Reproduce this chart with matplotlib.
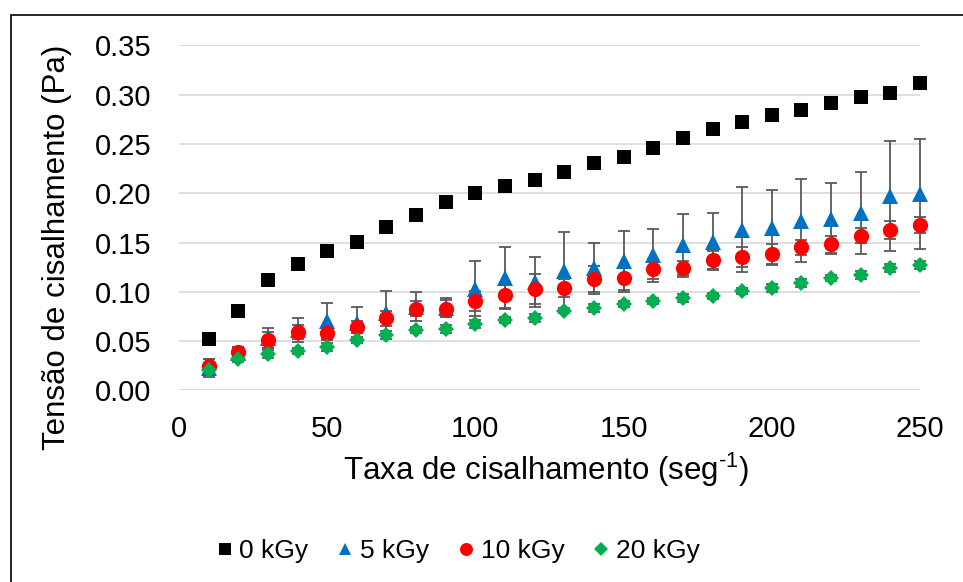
import matplotlib
matplotlib.use("Agg")
import matplotlib.pyplot as plt
import numpy as np
from matplotlib.patches import Rectangle
from matplotlib.ticker import FormatStrFormatter

plt.rcParams['font.family'] = ['Liberation Sans', 'DejaVu Sans']
plt.rcParams['mathtext.fontset'] = 'custom'
plt.rcParams['mathtext.rm'] = 'Liberation Sans'
plt.rcParams['mathtext.default'] = 'regular'

# shear rate (1/s)
taxa = [10, 20, 30, 40, 50, 60, 70, 80, 90, 100, 110, 120, 130, 140, 150,
        160, 170, 180, 190, 200, 210, 220, 230, 240, 250]

# shear stress (Pa), mean and std per dose
kgy0 = [0.052, 0.081, 0.112, 0.128, 0.141, 0.151, 0.166, 0.178, 0.191, 0.200,
        0.207, 0.213, 0.222, 0.231, 0.237, 0.246, 0.256, 0.265, 0.272, 0.279,
        0.284, 0.291, 0.298, 0.302, 0.312]
kgy0_sd = [0.002, 0.002, 0.002, 0.002, 0.002, 0.002, 0.002, 0.002, 0.002, 0.002,
           0.002, 0.002, 0.002, 0.002, 0.002, 0.002, 0.002, 0.002, 0.003, 0.002,
           0.005, 0.005, 0.003, 0.002, 0.002]

kgy5 = [0.023, 0.038, 0.053, 0.061, 0.070, 0.068, 0.078, 0.085, 0.084, 0.103,
        0.114, 0.110, 0.121, 0.124, 0.131, 0.137, 0.147, 0.151, 0.163, 0.165,
        0.172, 0.174, 0.180, 0.197, 0.199]
kgy5_sd = [0.009, 0.006, 0.010, 0.012, 0.019, 0.017, 0.023, 0.015, 0.010, 0.028,
           0.031, 0.025, 0.040, 0.026, 0.031, 0.027, 0.032, 0.029, 0.043, 0.038,
           0.042, 0.036, 0.042, 0.056, 0.056]

kgy10 = [0.025, 0.039, 0.051, 0.059, 0.058, 0.064, 0.073, 0.083, 0.083, 0.091,
         0.097, 0.103, 0.104, 0.113, 0.114, 0.123, 0.124, 0.132, 0.135, 0.138,
         0.145, 0.148, 0.157, 0.163, 0.168]
kgy10_sd = [0.007, 0.005, 0.008, 0.007, 0.006, 0.006, 0.008, 0.008, 0.009, 0.010,
            0.013, 0.015, 0.009, 0.013, 0.012, 0.010, 0.007, 0.009, 0.010, 0.010,
            0.008, 0.009, 0.008, 0.009, 0.008]

kgy20 = [0.021, 0.032, 0.037, 0.040, 0.044, 0.051, 0.056, 0.061, 0.062, 0.067,
         0.071, 0.073, 0.081, 0.084, 0.088, 0.091, 0.094, 0.096, 0.101, 0.104,
         0.109, 0.114, 0.117, 0.124, 0.127]
kgy20_sd = [0.004, 0.003, 0.004, 0.003, 0.004, 0.003, 0.004, 0.003, 0.004, 0.004,
            0.003, 0.004, 0.003, 0.004, 0.003, 0.003, 0.004, 0.003, 0.003, 0.004,
            0.004, 0.003, 0.004, 0.004, 0.004]

series = [
    ('0 kGy', kgy0, kgy0_sd, 's', '#000000', 10),
    ('5 kGy', kgy5, kgy5_sd, '^', '#0070C0', 11),
    ('10 kGy', kgy10, kgy10_sd, 'o', '#FF0000', 11),
    ('20 kGy', kgy20, kgy20_sd, 'D', '#00B050', 8),
]

fig = plt.figure(figsize=(9.63, 5.82), dpi=100)
ax = fig.add_axes([179 / 963, 1 - 390.4 / 582, (920 - 179) / 963, (390.4 - 45.3) / 582])

# error bars first, markers on top
for name, y, sd, mk, col, ms in series:
    ax.errorbar(taxa, y, yerr=sd, fmt='none', ecolor='#595959', elinewidth=1.3,
                capsize=4.3, capthick=1.3, zorder=2, clip_on=False)
for name, y, sd, mk, col, ms in series:
    ax.plot(taxa, y, linestyle='none', marker=mk, color=col, markersize=ms,
            markeredgewidth=0, label=name, zorder=3, clip_on=False)

ax.set_xlim(0, 250)
ax.set_ylim(0, 0.35)
ax.set_xticks(np.arange(0, 251, 50))
ax.set_yticks(np.arange(0, 0.351, 0.05))
ax.yaxis.set_major_formatter(FormatStrFormatter('%.2f'))
ax.tick_params(length=0, labelsize=21, pad=20)
ax.tick_params(axis='x', pad=18)
ax.grid(axis='y', color='#D9D9D9', linewidth=1.2)
ax.set_axisbelow(True)
for s in ax.spines.values():
    s.set_visible(False)

fig.text(57 / 963, 1 - 247 / 582, 'Tensão de cisalhamento (Pa)', rotation=90,
         ha='center', va='center', fontsize=22.5)
fig.text(546 / 963, 1 - 470 / 582, r'Taxa de cisalhamento (seg$^{\text{-1}}$)',
         ha='center', va='center', fontsize=22.5)

fig.legend(loc='center', bbox_to_anchor=(455 / 963, 1 - 551 / 582), ncol=4,
           frameon=False, fontsize=19, handletextpad=0.0, columnspacing=0.85,
           markerscale=0.85, handlelength=1.1)

fig.patches.append(Rectangle((11 / 963, -0.5), 2, 1.5 - 15 / 582, transform=fig.transFigure,
                             fill=False, edgecolor='black', linewidth=1.2))

fig.savefig('out.png', dpi=100)
